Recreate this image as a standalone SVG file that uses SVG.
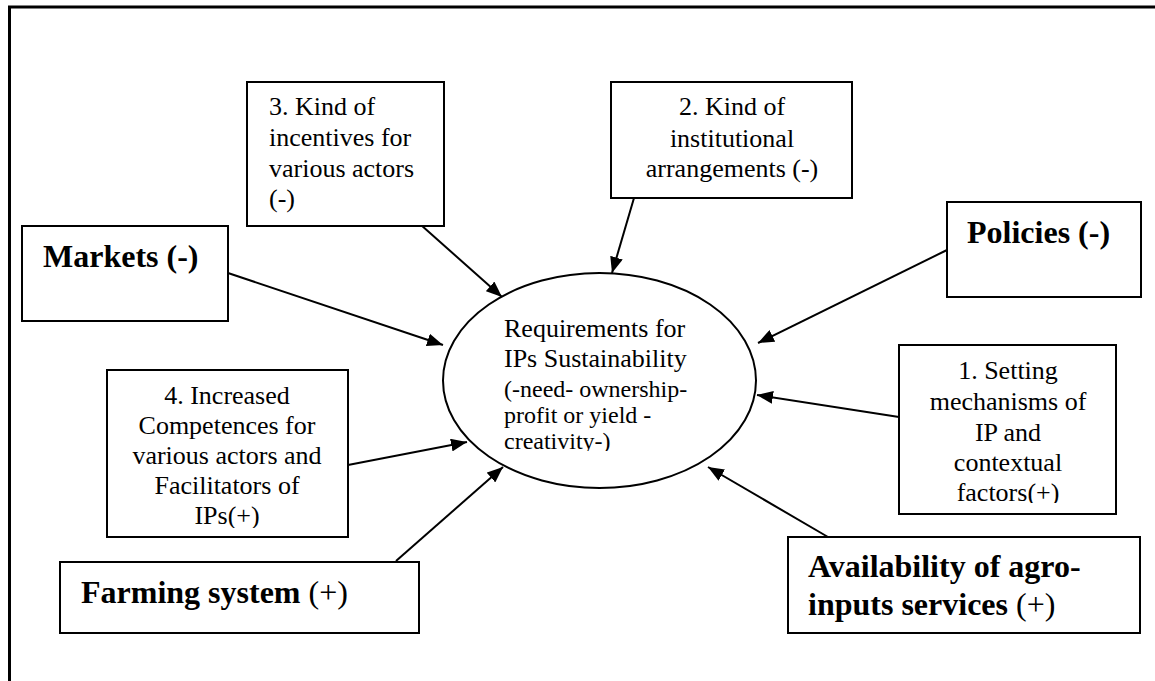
<svg xmlns="http://www.w3.org/2000/svg" width="1155" height="681" viewBox="0 0 1155 681">
  <style>
    .box { fill: #ffffff; stroke: #000000; stroke-width: 2; }
    .t { font-family: "Liberation Serif", "Times New Roman", Times, "DejaVu Serif", serif; font-size: 26px; font-weight: 400; font-style: normal; fill: #000000; }
    .s { font-size: 24px; }
    .b { font-family: "Liberation Serif", "Times New Roman", Times, "DejaVu Serif", serif; font-size: 32px; font-weight: bold; fill: #000000; }
    .n { font-weight: 400; }
    .c { text-anchor: middle; }
    .edge { stroke: #000000; stroke-width: 2; fill: none; marker-end: url(#head); }
  </style>
  <defs>
    <marker id="head" markerUnits="userSpaceOnUse" markerWidth="17" markerHeight="13" refX="16" refY="6.5" orient="auto">
      <path d="M0,0 L16,6.5 L0,13 z" fill="#000000"/>
    </marker>
    <clipPath id="clipCore"><rect x="440" y="270" width="320" height="181"/></clipPath>
    <clipPath id="clip4"><rect x="107" y="370" width="241" height="158"/></clipPath>
    <clipPath id="clip1"><rect x="899" y="345" width="217" height="158"/></clipPath>
  </defs>

  <rect width="1155" height="681" fill="#ffffff"/>
  <!-- outer frame -->
  <rect x="9.5" y="7" width="1160" height="700" fill="none" stroke="#000000" stroke-width="3"/>

  <g id="connectors">
    <line class="edge" x1="421" y1="225" x2="502" y2="297"/>
    <line class="edge" x1="634" y1="198" x2="612" y2="273"/>
    <line class="edge" x1="228" y1="273" x2="443" y2="345"/>
    <line class="edge" x1="947" y1="250" x2="758" y2="343"/>
    <line class="edge" x1="899" y1="417" x2="757" y2="395"/>
    <line class="edge" x1="348" y1="465" x2="467" y2="442"/>
    <line class="edge" x1="396" y1="561" x2="503" y2="467"/>
    <line class="edge" x1="828" y1="537" x2="708" y2="467"/>
  </g>

  <g id="core">
    <ellipse cx="599.5" cy="380.5" rx="156.5" ry="107.5" fill="#ffffff" stroke="#000000" stroke-width="2"/>
    <g clip-path="url(#clipCore)">
      <text class="t" x="504" y="337">Requirements for</text>
      <text class="t" x="504" y="367">IPs Sustainability</text>
      <text class="t s" x="504" y="397">(-need- ownership-</text>
      <text class="t s" x="504" y="423">profit or yield -</text>
      <text class="t s" x="504" y="449">creativity-)</text>
    </g>
  </g>

  <g id="incentives">
    <rect class="box" x="247" y="82" width="197" height="144"/>
    <text class="t" x="269" y="115">3. Kind of</text>
    <text class="t" x="269" y="146">incentives for</text>
    <text class="t" x="269" y="177">various actors</text>
    <text class="t" x="269" y="207">(-)</text>
  </g>

  <g id="institutional">
    <rect class="box" x="611" y="82" width="241" height="116"/>
    <text class="t c" x="732" y="115">2. Kind of</text>
    <text class="t c" x="732" y="147">institutional</text>
    <text class="t c" x="732" y="177">arrangements (-)</text>
  </g>

  <g id="markets">
    <rect class="box" x="22" y="226" width="206" height="95"/>
    <text class="b" x="43" y="267">Markets (-)</text>
  </g>

  <g id="policies">
    <rect class="box" x="947" y="202" width="194" height="95"/>
    <text class="b" x="967" y="243">Policies (-)</text>
  </g>

  <g id="competences">
    <rect class="box" x="107" y="370" width="241" height="167"/>
    <g clip-path="url(#clip4)">
      <text class="t c" x="227" y="404">4. Increased</text>
      <text class="t c" x="227" y="434">Competences for</text>
      <text class="t c" x="227" y="464">various actors and</text>
      <text class="t c" x="227" y="494">Facilitators of</text>
      <text class="t c" x="227" y="524">IPs(+)</text>
    </g>
  </g>

  <g id="mechanisms">
    <rect class="box" x="899" y="345" width="217" height="169"/>
    <g clip-path="url(#clip1)">
      <text class="t c" x="1008" y="379">1. Setting</text>
      <text class="t c" x="1008" y="410">mechanisms of</text>
      <text class="t c" x="1008" y="441">IP and</text>
      <text class="t c" x="1008" y="471">contextual</text>
      <text class="t c" x="1008" y="501">factors(+)</text>
    </g>
  </g>

  <g id="farming">
    <rect class="box" x="60" y="562" width="359" height="71"/>
    <text class="b" x="81" y="603">Farming system <tspan class="n">(+)</tspan></text>
  </g>

  <g id="agro-inputs">
    <rect class="box" x="788" y="537" width="352" height="96"/>
    <text class="b" x="808" y="577">Availability of agro-</text>
    <text class="b" x="808" y="615">inputs services <tspan class="n">(+)</tspan></text>
  </g>
</svg>
